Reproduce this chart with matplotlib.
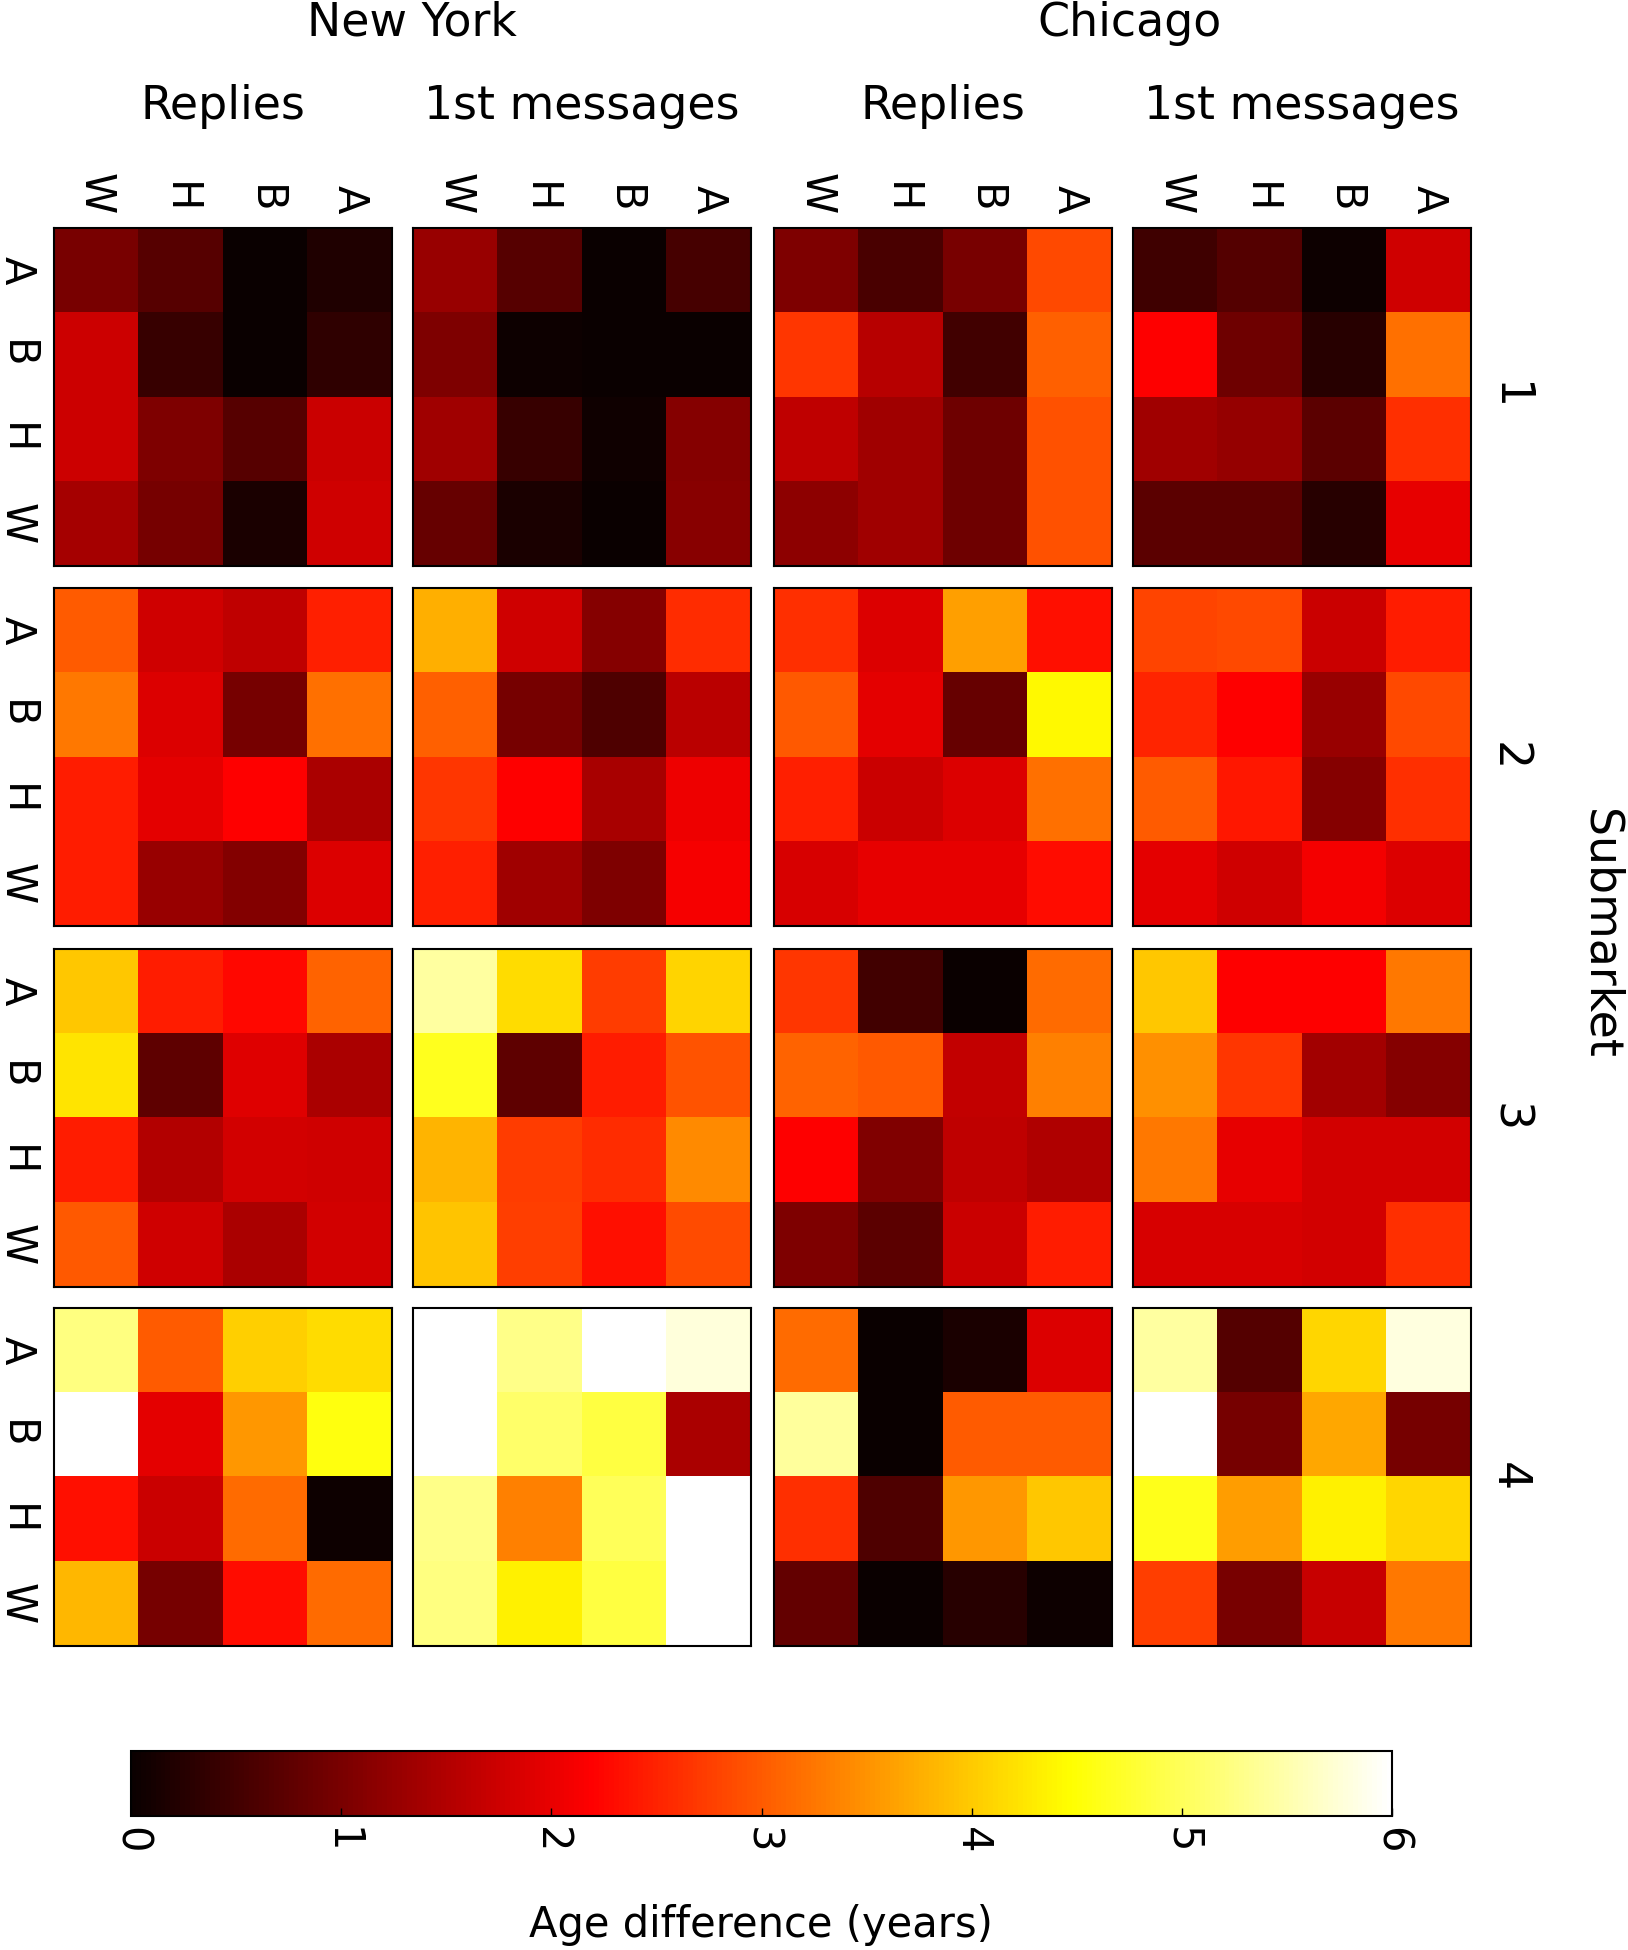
import numpy as np
import matplotlib
matplotlib.use("Agg")
import matplotlib.pyplot as plt

plt.rcParams['font.family'] = ['DejaVu Sans']

# Row categories (top to bottom) and column categories (left to right)
row_labels = ['A', 'B', 'H', 'W']
col_labels = ['W', 'H', 'B', 'A']
cities = ['New York', 'Chicago']
msg_types = ['Replies', '1st messages']
submarkets = ['1', '2', '3', '4']
cbar_ticks = [0, 1, 2, 3, 4, 5, 6]

# Age differences (years); each entry is one submarket, rows A,B,H,W ; cols W,H,B,A
ny_replies = [
    [[1.00, 0.70, 0.02, 0.20],
     [1.75, 0.40, 0.02, 0.33],
     [1.75, 1.05, 0.70, 1.72],
     [1.40, 0.98, 0.15, 1.77]],
    [[3.01, 1.77, 1.62, 2.48],
     [3.26, 1.88, 0.98, 3.19],
     [2.44, 1.95, 2.20, 1.43],
     [2.44, 1.28, 1.10, 1.88]],
    [[3.98, 2.44, 2.26, 3.09],
     [4.23, 0.77, 1.91, 1.45],
     [2.44, 1.51, 1.80, 1.77],
     [2.98, 1.77, 1.43, 1.80]],
    [[5.24, 3.01, 4.05, 4.16],
     [6.00, 1.95, 3.55, 4.57],
     [2.33, 1.72, 3.16, 0.04],
     [3.84, 0.98, 2.30, 3.16]],
]
ny_first = [
    [[1.28, 0.70, 0.02, 0.55],
     [1.05, 0.03, 0.02, 0.02],
     [1.34, 0.40, 0.06, 1.12],
     [0.84, 0.15, 0.02, 1.14]],
    [[3.77, 1.77, 1.12, 2.58],
     [3.05, 0.98, 0.62, 1.58],
     [2.69, 2.19, 1.41, 2.05],
     [2.48, 1.34, 1.05, 2.12]],
    [[5.43, 4.16, 2.73, 4.09],
     [4.65, 0.77, 2.44, 2.94],
     [3.80, 2.73, 2.58, 3.44],
     [3.95, 2.76, 2.33, 2.87]],
    [[6.00, 5.29, 6.00, 5.77],
     [6.00, 5.10, 4.86, 1.45],
     [5.29, 3.34, 5.00, 6.00],
     [5.24, 4.34, 4.86, 6.00]],
]
chi_replies = [
    [[1.05, 0.57, 1.00, 2.84],
     [2.69, 1.55, 0.50, 3.05],
     [1.62, 1.34, 0.91, 2.91],
     [1.19, 1.34, 0.91, 2.91]],
    [[2.62, 1.88, 3.62, 2.33],
     [2.98, 1.95, 0.84, 4.41],
     [2.48, 1.72, 1.88, 3.19],
     [1.84, 1.98, 1.98, 2.30]],
    [[2.69, 0.50, 0.02, 3.16],
     [3.09, 2.98, 1.66, 3.34],
     [2.19, 1.07, 1.62, 1.48],
     [1.05, 0.73, 1.72, 2.44]],
    [[3.16, 0.02, 0.15, 1.88],
     [5.41, 0.02, 3.01, 3.01],
     [2.62, 0.62, 3.55, 3.98],
     [0.80, 0.02, 0.27, 0.04]],
]
chi_first = [
    [[0.48, 0.66, 0.04, 1.77],
     [2.20, 0.91, 0.26, 3.19],
     [1.34, 1.26, 0.73, 2.62],
     [0.73, 0.73, 0.26, 1.98]],
    [[2.80, 2.84, 1.72, 2.44],
     [2.51, 2.19, 1.28, 2.84],
     [3.01, 2.41, 1.12, 2.62],
     [1.95, 1.77, 2.10, 1.88]],
    [[3.98, 2.20, 2.20, 3.26],
     [3.48, 2.69, 1.37, 1.12],
     [3.26, 1.98, 1.80, 1.80],
     [1.84, 1.84, 1.80, 2.62]],
    [[5.43, 0.66, 4.12, 5.80],
     [6.00, 0.98, 3.69, 0.98],
     [4.62, 3.59, 4.34, 4.12],
     [2.76, 1.00, 1.69, 3.26]],
]
columns_data = [ny_replies, ny_first, chi_replies, chi_first]

W_PX, H_PX = 1628, 1950
fig = plt.figure(figsize=(W_PX / 100, H_PX / 100), dpi=100)

col_left_px = [53.5, 413, 774, 1133]
row_top_px = [227.6, 588, 949, 1308]
panel_px = 338
FS = 30      # tick labels
FS_H = 33    # headers / submarket labels

im = None
for c, data in enumerate(columns_data):
    for r in range(4):
        left = col_left_px[c] / W_PX
        bottom = 1 - (row_top_px[r] + panel_px) / H_PX
        ax = fig.add_axes([left, bottom, panel_px / W_PX, panel_px / H_PX])
        im = ax.imshow(np.array(data[r]), cmap='hot', vmin=0, vmax=6,
                       interpolation='nearest', aspect='auto')
        ax.set_xticks(range(4))
        ax.set_yticks(range(4))
        ax.xaxis.tick_top()
        ax.tick_params(length=0)
        if r == 0:
            ax.set_xticklabels(col_labels, rotation=-90, fontsize=FS)
            ax.tick_params(axis='x', pad=10)
        else:
            ax.set_xticklabels([])
        if c == 0:
            ax.set_yticklabels(row_labels, rotation=-90, fontsize=FS,
                               va='center')
            ax.tick_params(axis='y', pad=11.5)
        else:
            ax.set_yticklabels([])
        for s in ax.spines.values():
            s.set_linewidth(1.5)
        if c == 3:
            yc = 1 - (row_top_px[r] + panel_px / 2) / H_PX
            fig.text(1486 / W_PX, yc, submarkets[r], rotation=-90,
                     fontsize=FS_H, ha='left', va='center')

# Column headers
for c in range(4):
    xc = (col_left_px[c] + panel_px / 2) / W_PX
    fig.text(xc, 1 - 119 / H_PX, msg_types[c % 2], fontsize=FS_H,
             ha='center', va='baseline')
fig.text(412 / W_PX, 1 - 36 / H_PX, cities[0], fontsize=FS_H,
         ha='center', va='baseline')
fig.text(1130 / W_PX, 1 - 36 / H_PX, cities[1], fontsize=FS_H,
         ha='center', va='baseline')

fig.text(1578 / W_PX, 1 - 934 / H_PX, 'Submarket', rotation=-90,
         fontsize=FS_H, ha='left', va='center')

# Colorbar
cax = fig.add_axes([131 / W_PX, 1 - 1816 / H_PX, 1261 / W_PX, 65 / H_PX])
cb = fig.colorbar(im, cax=cax, orientation='horizontal', ticks=cbar_ticks)
cb.outline.set_linewidth(1.5)
cax.tick_params(axis='x', direction='in', length=6, width=1, pad=8,
                labelsize=FS)
plt.setp(cax.get_xticklabels(), rotation=-90)
fig.text(761 / W_PX, 1 - 1937 / H_PX, 'Age difference (years)', fontsize=FS,
         ha='center', va='baseline')

fig.savefig('out.png', dpi=100)
